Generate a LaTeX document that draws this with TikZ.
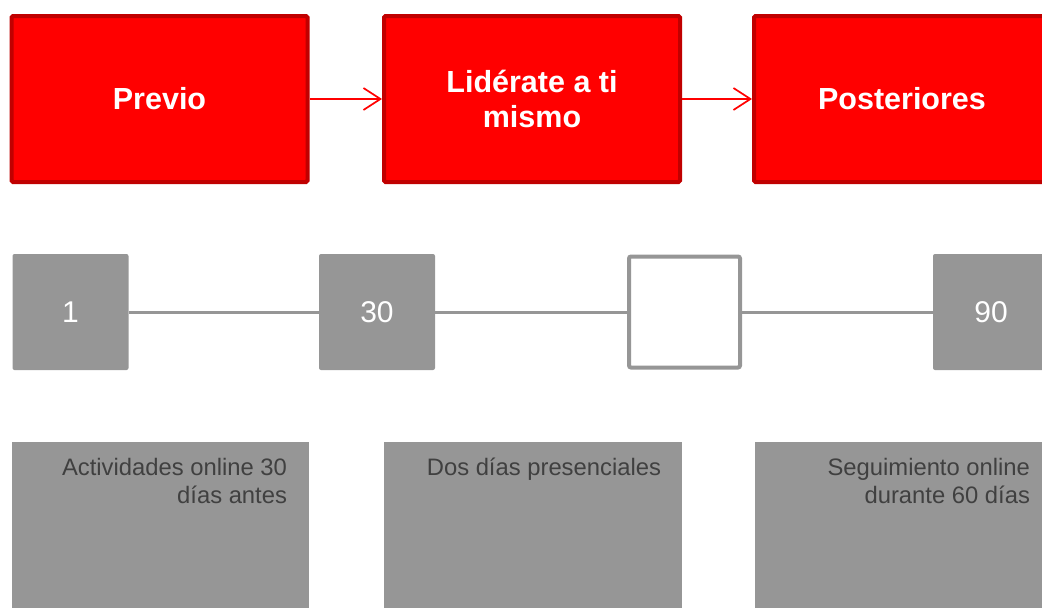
\documentclass[tikz,border=0pt]{standalone}
\usepackage{fontspec}
\setmainfont{Liberation Sans}
\usetikzlibrary{arrows.meta,positioning}
\definecolor{boxred}{HTML}{FF0000}
\definecolor{darkred}{HTML}{C00000}
\definecolor{midgray}{HTML}{969696}
\definecolor{textgray}{HTML}{404040}

\begin{document}
\begin{tikzpicture}[x=1pt,y=-1pt,
    phase/.style={draw=darkred, line width=4pt, fill=boxred, rounded corners=1.5pt,
      minimum width=296pt, minimum height=166pt, text=white, align=center,
      font=\fontsize{30.5}{34.5}\selectfont\bfseries},
    daybox/.style={fill=midgray, rounded corners=2pt, minimum width=116pt,
      minimum height=116pt, inner sep=0pt, text=white, font=\fontsize{30}{36}\selectfont},
    emptyday/.style={draw=midgray, line width=4pt, fill=white, rounded corners=2pt,
      minimum width=111pt, minimum height=111pt, inner sep=0pt},
    infobox/.style={fill=midgray, minimum height=170pt, inner sep=0pt},
    infotext/.style={align=right, inner sep=0pt, text=textgray,
      font=\fontsize{23.8}{28}\selectfont},
    flow/.style={draw=boxred, line width=1.7pt, -{Straight Barb[length=17pt,width=22pt]}},
    link/.style={draw=midgray, line width=3pt}]
  \useasboundingbox (0,0) rectangle (1042,608);

  % fases
  \node[phase] (previo) at (159.5,99) {Previo};
  \node[phase] (lider) at (532,99) {Lidérate a ti\\mismo};
  \node[phase] (poster) at (902,99) {Posteriores};
  \draw[flow] (previo) -- (lider);
  \draw[flow] (lider) -- (poster);

  % linea de dias
  \node[daybox] (d1) at (70.5,312) {1};
  \node[daybox] (d30) at (377,312) {30};
  \node[emptyday] (dmid) at (684.5,312) {};
  \node[daybox] (d90) at (991,312) {90};
  \draw[link] (d1) -- (d30);
  \draw[link] (d30) -- (dmid);
  \draw[link] (dmid) -- (d90);

  % descripciones
  \node[infobox, minimum width=297pt] (info1) at (160.5,527) {};
  \node[infobox, minimum width=298pt] (info2) at (533,527) {};
  \node[infobox, minimum width=297pt] (info3) at (903.5,527) {};
  \node[infotext, below left=16pt and 22pt of info1.north east] (txt1)
    {Actividades online 30\\días antes};
  \node[infotext, below left=16pt and 21pt of info2.north east] (txt2)
    {Dos días presenciales};
  \node[infotext, below left=16pt and 22pt of info3.north east] (txt3)
    {Seguimiento online\\durante 60 días};
\end{tikzpicture}
\end{document}
